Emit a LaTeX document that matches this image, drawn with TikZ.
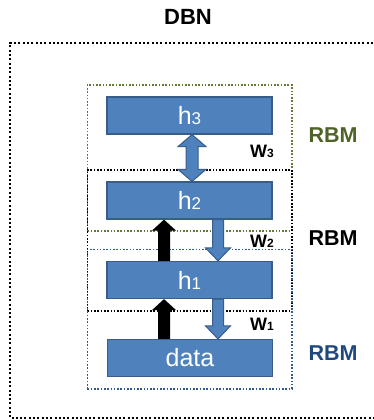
\documentclass[tikz,border=0pt]{standalone}
\usepackage{fontspec}
\setmainfont{Liberation Sans}
\usetikzlibrary{calc,fit}
\definecolor{layerblue}{RGB}{79,129,189}
\definecolor{layeredge}{RGB}{56,93,138}
\definecolor{rbmgreen}{RGB}{79,98,40}
\definecolor{dotgreen}{RGB}{98,122,50}
\definecolor{rbmblue}{RGB}{31,73,125}
\definecolor{dotblue}{RGB}{50,90,140}
\newcommand{\hsub}[1]{{\fontsize{17}{17}\selectfont #1}}
\newcommand{\wsub}[1]{{\fontsize{12}{12}\selectfont #1}}
% fat block arrows between two layers
\newcommand{\fatdown}[3]{\path[#1] let \p1=(#2), \p2=(#3) in
  (\x1-5.5pt,\y1) -- (\x1+5.5pt,\y1) -- (\x1+5.5pt,\y2+13pt) -- (\x1+12.5pt,\y2+13pt)
  -- (\x1,\y2) -- (\x1-12.5pt,\y2+13pt) -- (\x1-5.5pt,\y2+13pt) -- cycle;}
\newcommand{\fatup}[3]{\path[#1] let \p1=(#2), \p2=(#3) in
  (\x1-6pt,\y1) -- (\x1+6pt,\y1) -- (\x1+6pt,\y2-11pt) -- (\x1+12pt,\y2-11pt)
  -- (\x1,\y2) -- (\x1-12pt,\y2-11pt) -- (\x1-6pt,\y2-11pt) -- cycle;}

\begin{document}
\begin{tikzpicture}[x=1pt,y=-1pt,
layer/.style={draw=layeredge,line width=1.2pt,fill=layerblue,text=white,
  minimum width=165pt,minimum height=37pt,inner sep=0pt,font=\fontsize{25}{28}\selectfont},
rbmbox/.style={line width=1.8pt,dash pattern=on 1.6pt off 1.7pt,inner xsep=19pt,inner ysep=11.5pt},
wlabel/.style={font=\fontsize{18}{20}\selectfont\bfseries},
rbmlabel/.style={font=\fontsize{21.5}{24}\selectfont\bfseries},
bluearrow/.style={fill=layerblue,draw=layeredge,line width=1pt},
blackarrow/.style={fill=black}]
\useasboundingbox (0,0) rectangle (373,420);
% outer DBN frame, open to the right
\draw[line width=2pt,dash pattern=on 2pt off 2.3pt] (373,43) -- (10,43) -- (10,418) -- (373,418);
\node[font=\fontsize{22}{24}\selectfont\bfseries] (dbn) at (188,17) {DBN};
% layers
\node[layer] (h3) at (189.5,115.5) {h\hsub{3}};
\node[layer] (h2) at (189.5,200.5) {h\hsub{2}};
\node[layer] (h1) at (189.5,280) {h\hsub{1}};
\node[layer] (data) at (190,358) {data};
% RBM frames
\node[rbmbox,draw=dotgreen,fit=(h3)(h2)] (rbm3) {};
\node[rbmbox,draw=black,fit=(h2)(h1)] (rbm2) {};
\node[rbmbox,draw=dotblue,fit=(h1)(data)] (rbm1) {};
\node[rbmlabel,text=rbmgreen] (lbl3) at (333,135) {RBM};
\node[rbmlabel,text=black] (lbl2) at (333,238) {RBM};
\node[rbmlabel,text=rbmblue] (lbl1) at (333,353) {RBM};
% weights
\node[wlabel] (w3) at (262,151) {W\wsub{3}};
\node[wlabel] (w2) at (262,241) {W\wsub{2}};
\node[wlabel] (w1) at (262,324) {W\wsub{1}};
% arrow columns
\coordinate (colL) at (164,0);
\coordinate (colM) at (192,0);
\coordinate (colR) at (218,0);
% undirected top pair
\path[bluearrow] let \p1=(h3.south -| colM), \p2=(h2.north -| colM) in
  (\x1,\y1) -- (\x1+14pt,\y1-12pt) -- (\x1+6pt,\y1-12pt) -- (\x1+6pt,\y2+12pt)
  -- (\x1+14pt,\y2+12pt) -- (\x1,\y2) -- (\x1-14pt,\y2+12pt) -- (\x1-6pt,\y2+12pt)
  -- (\x1-6pt,\y1-12pt) -- (\x1-14pt,\y1-12pt) -- cycle;
% generative (down) and recognition (up) arrows
\fatdown{bluearrow}{h2.south -| colR}{h1.north -| colR}
\fatdown{bluearrow}{h1.south -| colR}{data.north -| colR}
\fatup{blackarrow}{h1.north -| colL}{h2.south -| colL}
\fatup{blackarrow}{data.north -| colL}{h1.south -| colL}
\end{tikzpicture}
\end{document}
